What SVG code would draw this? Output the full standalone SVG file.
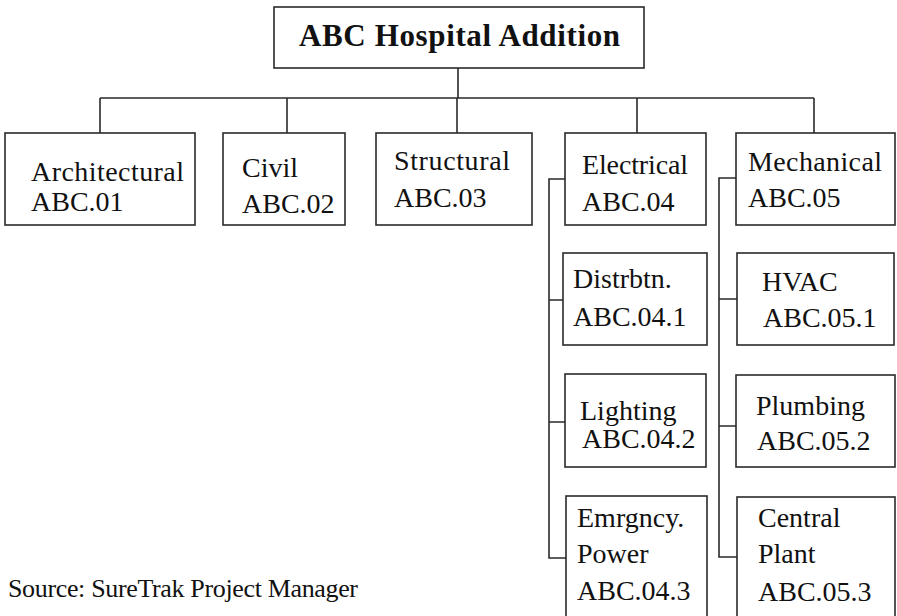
<svg xmlns="http://www.w3.org/2000/svg" width="897" height="616" viewBox="0 0 897 616">
<style>
  .box { fill: #fff; stroke: #2a2a2a; stroke-width: 1.6; }
  .conn { fill: none; stroke: #2a2a2a; stroke-width: 1.6; }
  text { font-family: "Liberation Serif", "Times New Roman", serif; font-size: 28px; fill: #111; }
  .title { font-weight: bold; font-size: 31px; }
  .src { font-size: 26px; }
</style>
<rect width="897" height="616" fill="#fff"/>
<g id="connectors">
  <path class="conn" d="M458 68 V98 M100 98 H814 M100 98 V133 M287 98 V133 M457 98 V133 M637 98 V133 M814 98 V133"/>
  <path class="conn" d="M565 179 H549 V558 H566 M549 300 H563 M549 422 H565"/>
  <path class="conn" d="M736 178 H719 V557 H737 M719 299 H737 M719 426 H736"/>
</g>
<g id="root">
  <rect class="box" x="274" y="7" width="370" height="61"/>
  <text class="title" x="299" y="46" textLength="321" lengthAdjust="spacing">ABC Hospital Addition</text>
</g>
<g id="architectural">
  <rect class="box" x="5" y="133" width="190" height="92"/>
  <text x="31" y="181" textLength="153" lengthAdjust="spacing">Architectural</text>
  <text x="31" y="211">ABC.01</text>
</g>
<g id="civil">
  <rect class="box" x="223" y="133" width="122" height="92"/>
  <text x="242" y="177">Civil</text>
  <text x="242" y="213">ABC.02</text>
</g>
<g id="structural">
  <rect class="box" x="376" y="133" width="156" height="92"/>
  <text x="394" y="170" textLength="116" lengthAdjust="spacing">Structural</text>
  <text x="394" y="207">ABC.03</text>
</g>
<g id="electrical">
  <rect class="box" x="565" y="133" width="141" height="92"/>
  <text x="582" y="174" textLength="106" lengthAdjust="spacing">Electrical</text>
  <text x="582" y="211">ABC.04</text>
</g>
<g id="mechanical">
  <rect class="box" x="736" y="133" width="159" height="92"/>
  <text x="748" y="171" textLength="134" lengthAdjust="spacing">Mechanical</text>
  <text x="748" y="207">ABC.05</text>
</g>
<g id="distribution">
  <rect class="box" x="563" y="253" width="144" height="92"/>
  <text x="573" y="288">Distrbtn.</text>
  <text x="573" y="326">ABC.04.1</text>
</g>
<g id="lighting">
  <rect class="box" x="565" y="374" width="141" height="93"/>
  <text x="580" y="420">Lighting</text>
  <text x="582" y="448">ABC.04.2</text>
</g>
<g id="emergency-power">
  <rect class="box" x="566" y="496" width="141" height="124"/>
  <text x="577" y="527">Emrgncy.</text>
  <text x="577" y="563">Power</text>
  <text x="577" y="600">ABC.04.3</text>
</g>
<g id="hvac">
  <rect class="box" x="737" y="253" width="157" height="92"/>
  <text x="762" y="291">HVAC</text>
  <text x="763" y="327">ABC.05.1</text>
</g>
<g id="plumbing">
  <rect class="box" x="736" y="375" width="159" height="92"/>
  <text x="756" y="415">Plumbing</text>
  <text x="757" y="450">ABC.05.2</text>
</g>
<g id="central-plant">
  <rect class="box" x="737" y="497" width="158" height="123"/>
  <text x="758" y="527">Central</text>
  <text x="758" y="563">Plant</text>
  <text x="758" y="601">ABC.05.3</text>
</g>
<text class="src" x="8" y="597" textLength="350" lengthAdjust="spacing">Source: SureTrak Project Manager</text>
</svg>
